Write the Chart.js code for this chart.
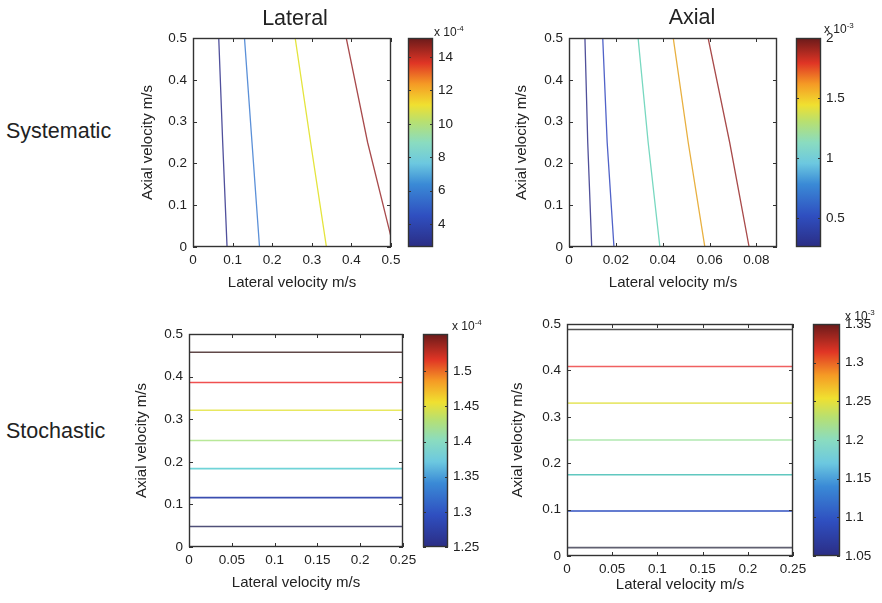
<!DOCTYPE html>
<html>
<head>
<meta charset="utf-8">
<script src="https://cdn.jsdelivr.net/npm/chart.js@4"></script>
<style>
  body { margin: 0; background: #fff; font-family: "Liberation Sans", Arial, sans-serif; color: #222; }
  #fig { position: relative; width: 882px; height: 603px; overflow: hidden; }
  canvas { position: absolute; }
  .lbl { position: absolute; white-space: nowrap; transform: translateY(-50%); }
  .title { font-size: 21.5px; transform: translate(-50%, -50%); }
  .row { font-size: 21.5px; }
  .exp { font-size: 12px; }
  .exp sup { font-size: 8px; }
</style>
</head>
<body>
<div id="fig">
  <canvas id="p1"></canvas>
  <canvas id="p2"></canvas>
  <canvas id="p3"></canvas>
  <canvas id="p4"></canvas>
  <canvas id="cb1"></canvas>
  <canvas id="cb2"></canvas>
  <canvas id="cb3"></canvas>
  <canvas id="cb4"></canvas>

  <div class="lbl title" style="left:295px;top:18px">Lateral</div>
  <div class="lbl title" style="left:692px;top:17px">Axial</div>
  <div class="lbl row" style="left:6px;top:131px">Systematic</div>
  <div class="lbl row" style="left:6px;top:431px">Stochastic</div>
  <div class="lbl exp" style="left:434px;top:31px">x 10<sup>-4</sup></div>
  <div class="lbl exp" style="left:824px;top:28px">x 10<sup>-3</sup></div>
  <div class="lbl exp" style="left:452px;top:325px">x 10<sup>-4</sup></div>
  <div class="lbl exp" style="left:845px;top:315px">x 10<sup>-3</sup></div>
</div>
<script>
// ---- data ----

// systematic / lateral: contour lines, x read at y = 0.5, 0.25, ~0
const sysLatY  = [0.5, 0.25, 0];
const sysLatL1 = [0.065, 0.075, 0.086];
const sysLatL2 = [0.130, 0.149, 0.168];
const sysLatL3 = [0.258, 0.297, 0.337];
const sysLatL4 = [0.387, 0.441, 0.5];
const sysLatY4 = [0.5, 0.25, 0.024];
const sysLatXTicks = [0, 0.1, 0.2, 0.3, 0.4, 0.5];

// systematic / axial
const sysAxY  = [0.5, 0.25, 0];
const sysAxL1 = [0.0068, 0.0080, 0.0097];
const sysAxL2 = [0.0144, 0.0163, 0.0192];
const sysAxL3 = [0.0295, 0.0338, 0.0388];
const sysAxL4 = [0.0445, 0.0509, 0.0580];
const sysAxL5 = [0.0594, 0.0686, 0.0769];
const sysAxXTicks = [0, 0.02, 0.04, 0.06, 0.08];

// stochastic: flat contour levels (axial velocity)
const stoLatLevels = [0.048, 0.116, 0.184, 0.250, 0.321, 0.386, 0.457];
const stoAxLevels  = [0.018, 0.097, 0.175, 0.250, 0.3295, 0.4085, 0.488];
const stoXTicks = [0, 0.05, 0.1, 0.15, 0.2, 0.25];

const yTicks = [0, 0.1, 0.2, 0.3, 0.4, 0.5];

// colour bars
const cb1Range = [2.62, 15.14];
const cb1Ticks = [4, 6, 8, 10, 12, 14];
const cb2Range = [0.263, 2];
const cb2Ticks = [0.5, 1, 1.5, 2];
const cb3Range = [1.25, 1.553];
const cb3Ticks = [1.25, 1.3, 1.35, 1.4, 1.45, 1.5];
const cb4Range = [1.05, 1.35];
const cb4Ticks = [1.05, 1.1, 1.15, 1.2, 1.25, 1.3, 1.35];

// ---- styles ----
const jetStops = [
  [0, '#2b2d84'], [0.15, '#2f4fc0'], [0.3, '#3a8ad6'], [0.4, '#6cc8e0'],
  [0.5, '#8adcc0'], [0.6, '#b8e070'], [0.68, '#f0e030'], [0.78, '#f59a25'],
  [0.88, '#e03525'], [1, '#6a1a1a']
];
const sysLatColors = ['#50509c', '#5b90d8', '#e4e43c', '#a84a4c'];
const sysAxColors  = ['#50509a', '#5062c8', '#78d8c0', '#e8b040', '#a84a4a'];
const stoLatColors = ['#505078', '#3a4eb0', '#70d4d8', '#b8e898', '#e8e860', '#f05050', '#604848'];
const stoAxColors  = ['#606070', '#3050c0', '#60c8c0', '#b0e8b0', '#e8e870', '#f06060', '#505050'];

Chart.defaults.font.family = '"Liberation Sans", Arial, Helvetica, sans-serif';
Chart.defaults.color = '#222';
Chart.defaults.animation = false;

const F_TICK = 13.5, F_AXIS = 15;

// box frame with inward ticks (matlab style)
Chart.register({
  id: 'frame',
  afterDatasetsDraw(chart, args, opts) {
    const { ctx, chartArea: a, scales } = chart;
    const tl = opts.tick || 4;
    ctx.save();
    ctx.strokeStyle = '#333';
    ctx.lineWidth = 1;
    ctx.beginPath();
    Object.values(scales).forEach(s => {
      if (!s.options.display) return;
      s.ticks.forEach(t => {
        const p = Math.round(s.getPixelForValue(t.value)) + 0.5;
        if (s.isHorizontal()) {
          ctx.moveTo(p, a.bottom); ctx.lineTo(p, a.bottom - tl);
          ctx.moveTo(p, a.top); ctx.lineTo(p, a.top + tl);
        } else {
          ctx.moveTo(a.left, p); ctx.lineTo(a.left + tl, p);
          ctx.moveTo(a.right, p); ctx.lineTo(a.right - tl, p);
        }
      });
    });
    ctx.stroke();
    ctx.lineWidth = 1.4;
    ctx.strokeRect(Math.round(a.left) + 0.5, Math.round(a.top) + 0.5,
      Math.round(a.right - a.left) - 1, Math.round(a.bottom - a.top) - 1);
    ctx.restore();
  }
});

function place(canvas, left, top, w, h) {
  canvas.width = w;
  canvas.height = h;
  canvas.style.left = left + 'px';
  canvas.style.top = top + 'px';
}

function lineSet(xs, ys, color, width) {
  return {
    data: xs.map((x, i) => ({ x, y: ys[i] })),
    borderColor: color, borderWidth: width,
    showLine: true, pointRadius: 0, tension: 0, fill: false
  };
}

const noGrid = { display: false, drawTicks: false };

function contourPanel(id, box, xTicks, xMax, datasets, yTitleX, xTitleY) {
  const half = F_AXIS * 1.2 / 2;
  const padL = 2, padB = 2, padT = 10, padR = 14;
  const left = Math.round(yTitleX - half - padL);
  const top = box.T - padT;
  const bottom = Math.round(xTitleY + half + padB);
  const canvas = document.getElementById(id);
  place(canvas, left, top, box.R + padR - left, bottom - top);
  return new Chart(canvas, {
    type: 'scatter',
    data: { datasets },
    options: {
      responsive: false,
      layout: { padding: { left: padL, top: padT, right: padR, bottom: padB } },
      plugins: { legend: { display: false }, tooltip: { enabled: false }, frame: { tick: 4 } },
      scales: {
        x: {
          min: 0, max: xMax,
          grid: noGrid, border: { display: false },
          ticks: { padding: 5, autoSkip: false, maxRotation: 0, font: { size: F_TICK }, callback: v => String(v) },
          title: { display: true, text: 'Lateral velocity m/s', font: { size: F_AXIS }, padding: 0 },
          afterBuildTicks: s => { s.ticks = xTicks.map(v => ({ value: v })); },
          afterFit: s => { s.height = bottom - padB - box.B; s.paddingLeft = 0; s.paddingRight = 0; }
        },
        y: {
          min: 0, max: 0.5,
          grid: noGrid, border: { display: false },
          ticks: { padding: 6, autoSkip: false, font: { size: F_TICK }, callback: v => String(v) },
          title: { display: true, text: 'Axial velocity m/s', font: { size: F_AXIS }, padding: 0 },
          afterBuildTicks: s => { s.ticks = yTicks.map(v => ({ value: v })); },
          afterFit: s => { s.width = box.L - left - padL; s.paddingTop = 0; s.paddingBottom = 0; }
        }
      }
    }
  });
}

function jetFill(c) {
  const a = c.chart.chartArea;
  if (!a) return '#888';
  const g = c.chart.ctx.createLinearGradient(0, a.bottom, 0, a.top);
  jetStops.forEach(([p, col]) => g.addColorStop(p, col));
  return g;
}

function colorBar(id, box, range, ticks) {
  const padT = 8, padB = 8, padL = 2, yW = 44;
  const canvas = document.getElementById(id);
  place(canvas, box.L - padL, box.T - padT, box.R - box.L + padL + yW, box.B - box.T + padT + padB);
  return new Chart(canvas, {
    type: 'bar',
    data: {
      labels: [''],
      datasets: [{ data: [range], backgroundColor: jetFill, borderWidth: 0, barPercentage: 1, categoryPercentage: 1 }]
    },
    options: {
      responsive: false,
      layout: { padding: { left: padL, top: padT, right: 0, bottom: padB } },
      plugins: { legend: { display: false }, tooltip: { enabled: false }, frame: { tick: 3 } },
      scales: {
        x: { display: false },
        y: {
          position: 'right', min: range[0], max: range[1],
          grid: noGrid, border: { display: false },
          ticks: { padding: 5, autoSkip: false, font: { size: F_TICK }, callback: v => String(v) },
          afterBuildTicks: s => { s.ticks = ticks.map(v => ({ value: v })); },
          afterFit: s => { s.width = yW; s.paddingTop = 0; s.paddingBottom = 0; }
        }
      }
    }
  });
}

// ---- panels ----
contourPanel('p1', { L: 193, T: 38, R: 391, B: 247 }, sysLatXTicks, 0.5, [
  lineSet(sysLatL1, sysLatY, sysLatColors[0], 1.3),
  lineSet(sysLatL2, sysLatY, sysLatColors[1], 1.3),
  lineSet(sysLatL3, sysLatY, sysLatColors[2], 1.3),
  lineSet(sysLatL4, sysLatY4, sysLatColors[3], 1.3)
], 148, 283);

contourPanel('p2', { L: 569, T: 38, R: 777, B: 247 }, sysAxXTicks, 0.0888, [
  lineSet(sysAxL1, sysAxY, sysAxColors[0], 1.3),
  lineSet(sysAxL2, sysAxY, sysAxColors[1], 1.3),
  lineSet(sysAxL3, sysAxY, sysAxColors[2], 1.3),
  lineSet(sysAxL4, sysAxY, sysAxColors[3], 1.3),
  lineSet(sysAxL5, sysAxY, sysAxColors[4], 1.3)
], 522, 283);

const stoMax = stoXTicks[stoXTicks.length - 1];
contourPanel('p3', { L: 189, T: 334, R: 403, B: 547 }, stoXTicks, stoMax,
  stoLatLevels.map((v, i) => lineSet([0, stoMax], [v, v], stoLatColors[i], 1.6)), 142, 583);

contourPanel('p4', { L: 567, T: 324, R: 793, B: 556 }, stoXTicks, stoMax,
  stoAxLevels.map((v, i) => lineSet([0, stoMax], [v, v], stoAxColors[i], 1.6)), 518, 585);

colorBar('cb1', { L: 408, T: 38, R: 433, B: 247 }, cb1Range, cb1Ticks);
colorBar('cb2', { L: 796, T: 38, R: 821, B: 247 }, cb2Range, cb2Ticks);
colorBar('cb3', { L: 423, T: 334, R: 448, B: 547 }, cb3Range, cb3Ticks);
colorBar('cb4', { L: 813, T: 324, R: 840, B: 556 }, cb4Range, cb4Ticks);
</script>
</body>
</html>
